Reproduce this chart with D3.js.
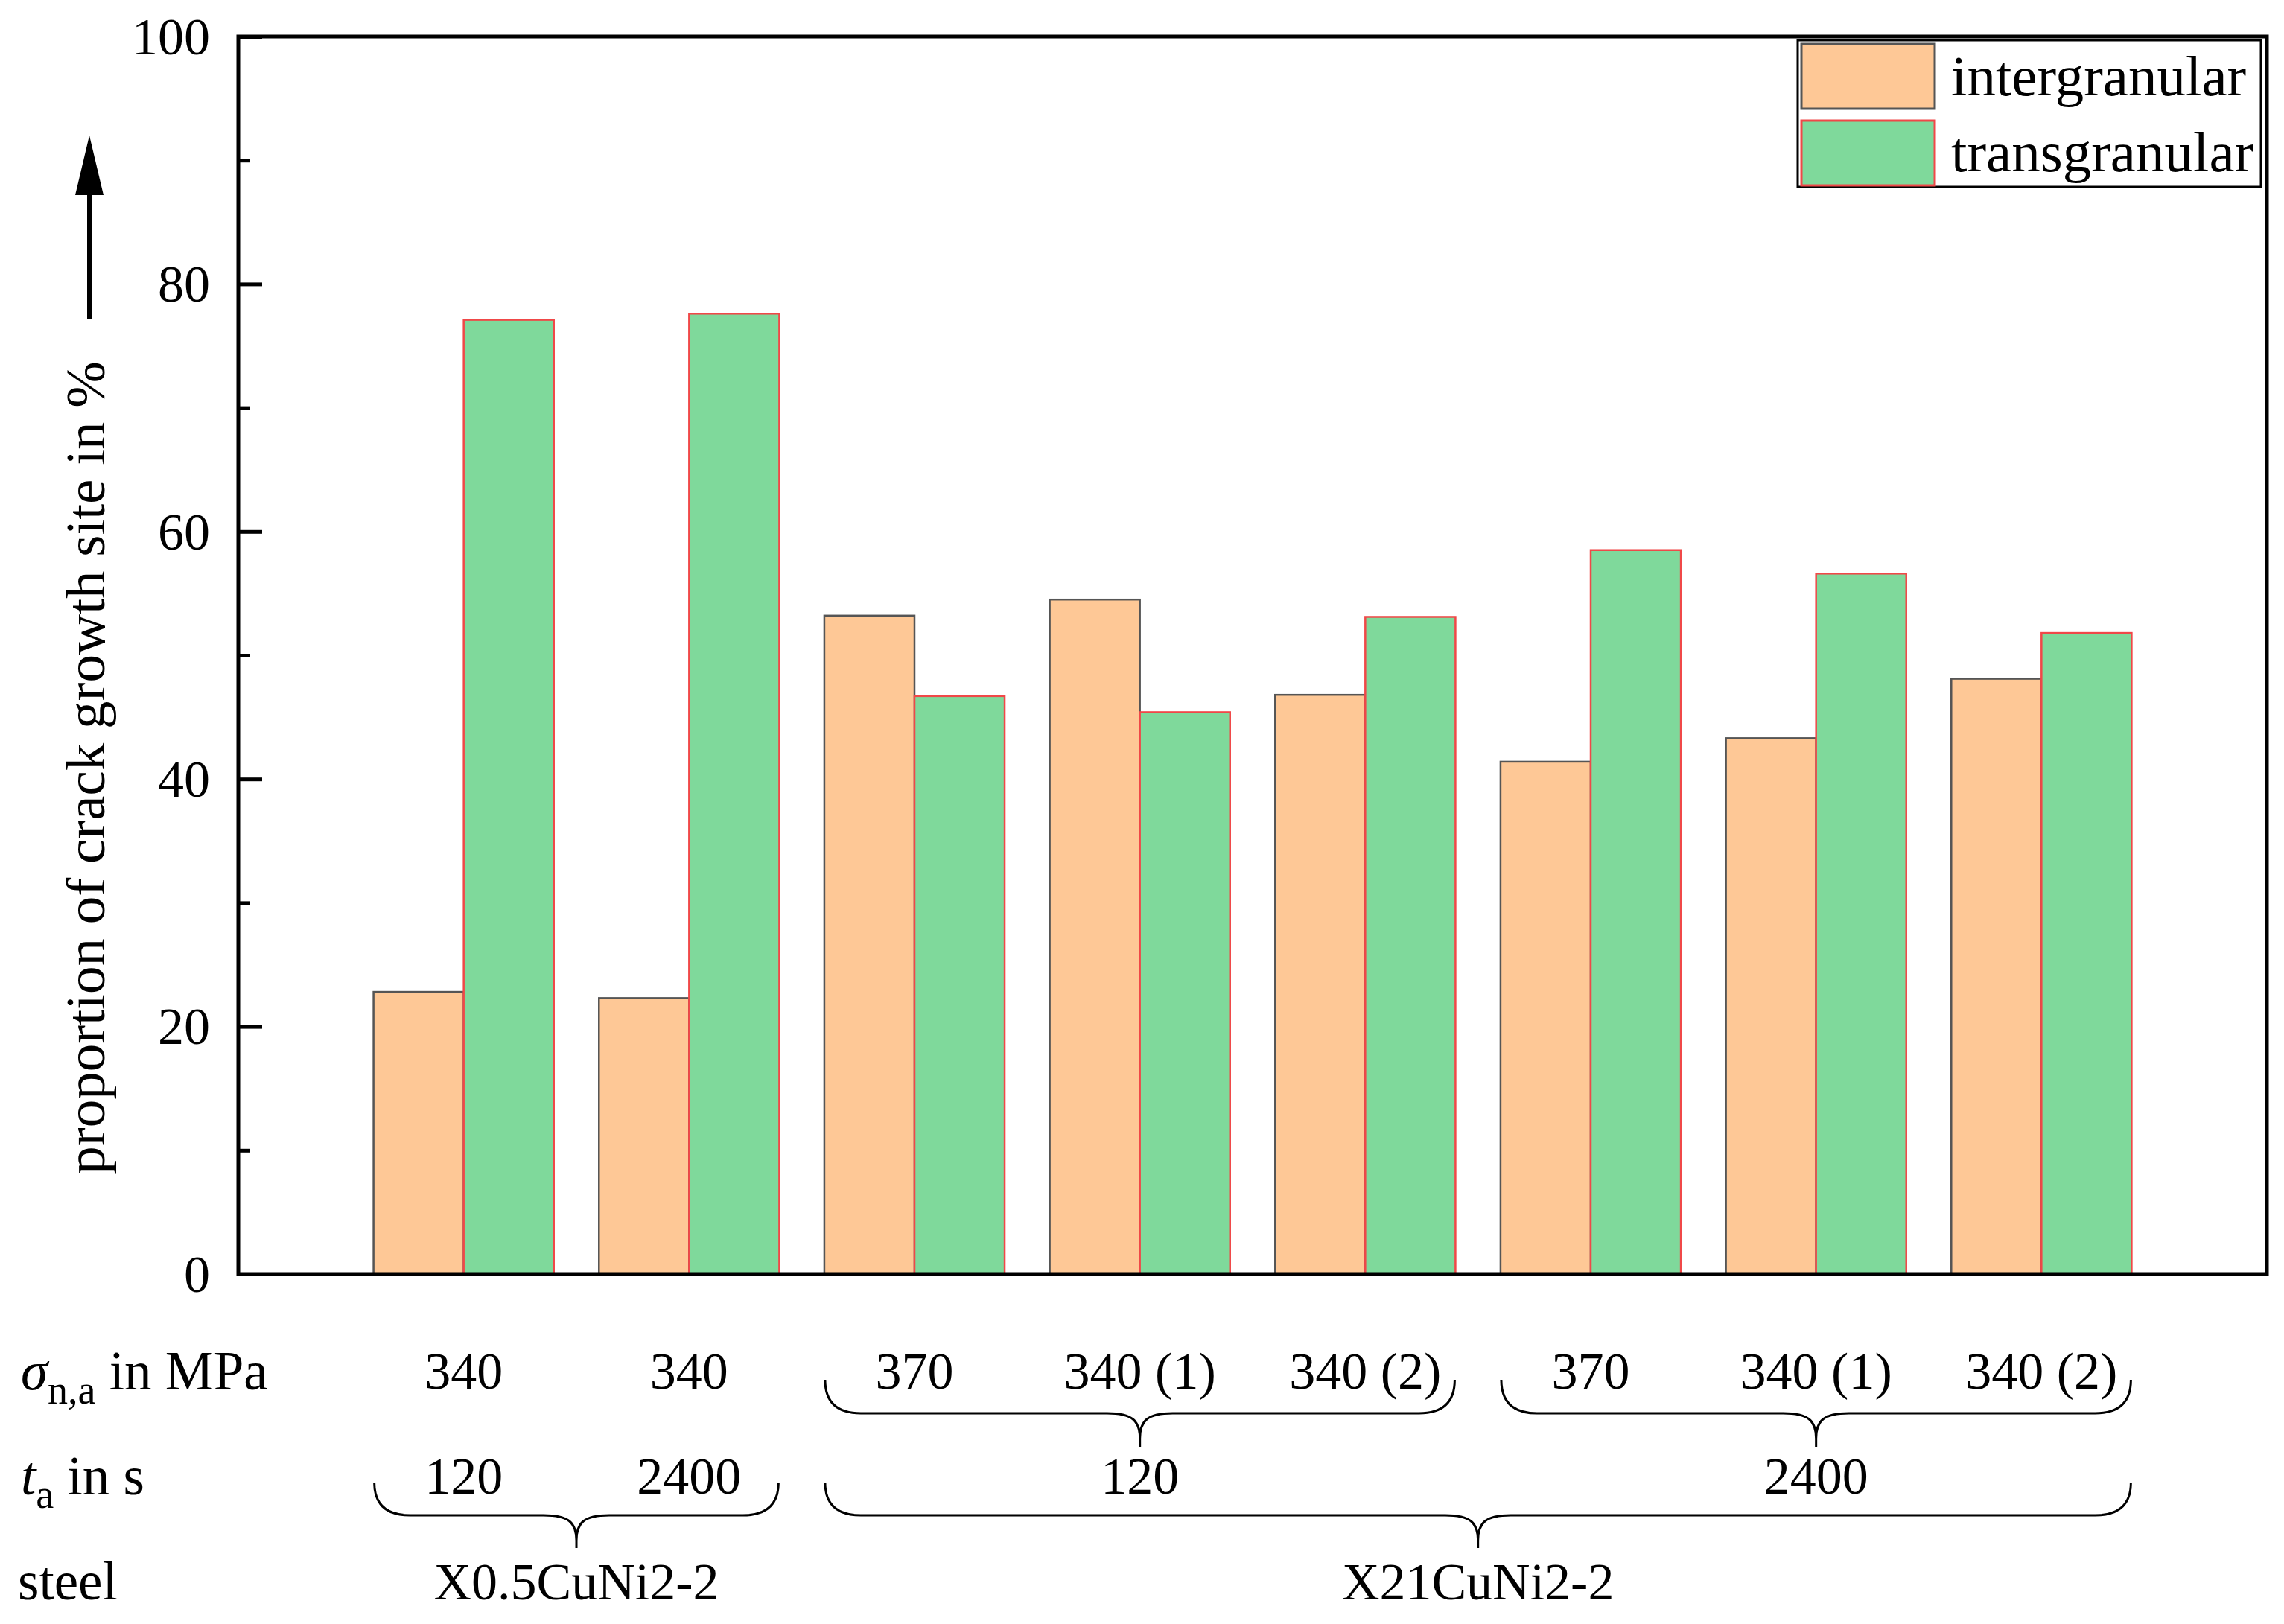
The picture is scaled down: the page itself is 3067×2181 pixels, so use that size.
<!DOCTYPE html>
<html><head><meta charset="utf-8">
<script src="https://cdn.jsdelivr.net/npm/d3@7"></script>
<style>body{margin:0;background:#fff;} text{font-family:"Liberation Serif","Times New Roman",serif;fill:#000;}</style>
</head><body>
<svg id="chart" width="3067" height="2181"></svg>
<script>
// ---- data ----
const groupIndex = [1, 2, 3, 4, 5, 6, 7, 8];
const intergranular = [22.8, 22.3, 53.2, 54.5, 46.8, 41.4, 43.3, 48.1];
const transgranular = [77.1, 77.6, 46.7, 45.4, 53.1, 58.5, 56.6, 51.8];
const sigmaLabels = ["340", "340", "370", "340 (1)", "340 (2)", "370", "340 (1)", "340 (2)"];
const taLabels = [{text:"120", from:1, to:1}, {text:"2400", from:2, to:2}, {text:"120", from:3, to:5}, {text:"2400", from:6, to:8}];
const steelLabels = [{text:"X0.5CuNi2-2", from:1, to:2}, {text:"X21CuNi2-2", from:3, to:8}];
const sigmaBraces = [{from:3, to:5}, {from:6, to:8}];
const taBraces = [{from:1, to:2}, {from:3, to:8}];
const yTicks = [0, 20, 40, 60, 80, 100];
const yMinorTicks = [10, 30, 50, 70, 90];
const seriesNames = ["intergranular", "transgranular"];

// ---- layout ----
const svg = d3.select("#chart");
const L = 320, R = 3044, T = 49, B = 1711;
const x = d3.scaleLinear().domain([0, 9]).range([L, R]);
const y = d3.scaleLinear().domain([0, 100]).range([B, T]);
const bw = 0.4;
const colors = {fill:["#FEC896", "#7FD99B"], stroke:["#555555", "#F04848"]};

// bars
const series = [intergranular, transgranular];
series.forEach((vals, s) => {
  svg.append("g").selectAll("rect").data(vals).join("rect")
    .attr("x", (d, i) => x(groupIndex[i] + (s === 0 ? -bw : 0)))
    .attr("width", x(bw) - x(0))
    .attr("y", d => y(d))
    .attr("height", d => y(0) - y(d))
    .attr("fill", colors.fill[s])
    .attr("stroke", colors.stroke[s])
    .attr("stroke-width", 2.5);
});

// frame
svg.append("rect").attr("x", L).attr("y", T).attr("width", R - L).attr("height", B - T)
  .attr("fill", "none").attr("stroke", "#000").attr("stroke-width", 5);

// y axis ticks (inward)
const yAxis = d3.axisRight(y).tickValues(yTicks).tickSize(32).tickFormat("");
const ga = svg.append("g").attr("transform", `translate(${L},0)`).call(yAxis);
ga.select(".domain").remove();
ga.selectAll("line").attr("stroke", "#000").attr("stroke-width", 5);
const yMinor = d3.axisRight(y).tickValues(yMinorTicks).tickSize(16).tickFormat("");
const gm = svg.append("g").attr("transform", `translate(${L},0)`).call(yMinor);
gm.select(".domain").remove();
gm.selectAll("line").attr("stroke", "#000").attr("stroke-width", 5);
svg.append("g").selectAll("text").data(yTicks).join("text")
  .attr("x", L - 38).attr("y", d => y(d)).attr("dy", "0.34em")
  .attr("text-anchor", "end").attr("font-size", 70).text(d => d);

// y label + arrow
svg.append("text").attr("transform", "translate(140,1031) rotate(-90)")
  .attr("text-anchor", "middle").attr("font-size", 75)
  .text("proportion of crack growth site in %");
svg.append("line").attr("x1", 120).attr("x2", 120).attr("y1", 429).attr("y2", 250)
  .attr("stroke", "#000").attr("stroke-width", 6);
svg.append("path").attr("d", "M120,182 L139,262 L101,262 Z").attr("fill", "#000");

// legend
const lg = svg.append("g");
lg.append("rect").attr("x", 2414).attr("y", 54).attr("width", 622).attr("height", 197)
  .attr("fill", "#fff").attr("stroke", "#000").attr("stroke-width", 3);
seriesNames.forEach((n, s) => {
  lg.append("rect").attr("x", 2419).attr("y", 59 + s * 103).attr("width", 179).attr("height", 87)
    .attr("fill", colors.fill[s]).attr("stroke", colors.stroke[s]).attr("stroke-width", 3);
  lg.append("text").attr("x", 2620).attr("y", 128 + s * 102).attr("font-size", 77).text(n);
});

// bottom category labels
const rowL = svg.append("g");
const s1 = rowL.append("text").attr("x", 28).attr("y", 1866).attr("font-size", 73);
s1.append("tspan").attr("font-style", "italic").text("σ");
s1.append("tspan").attr("font-size", 54).attr("dy", 19).text("n,a");
s1.append("tspan").attr("dy", -19).text(" in MPa");
const s2 = rowL.append("text").attr("x", 28).attr("y", 2007).attr("font-size", 73);
s2.append("tspan").attr("font-style", "italic").text("t");
s2.append("tspan").attr("font-size", 54).attr("dy", 18).text("a");
s2.append("tspan").attr("dy", -18).text(" in s");
rowL.append("text").attr("x", 24).attr("y", 2148).attr("font-size", 73).text("steel");

svg.append("g").selectAll("text").data(sigmaLabels).join("text")
  .attr("x", (d, i) => x(groupIndex[i])).attr("y", 1865).attr("text-anchor", "middle")
  .attr("font-size", 70).text(d => d);
svg.append("g").selectAll("text").data(taLabels).join("text")
  .attr("x", d => x((d.from + d.to) / 2)).attr("y", 2006).attr("text-anchor", "middle")
  .attr("font-size", 70).text(d => d.text);
svg.append("g").selectAll("text").data(steelLabels).join("text")
  .attr("x", d => x((d.from + d.to) / 2)).attr("y", 2148).attr("text-anchor", "middle")
  .attr("font-size", 70).text(d => d.text);

// braces
function bracePath(d, yTop, yMid, yTip) {
  const x0 = x(d.from - bw) + 1, x1 = x(d.to + bw) - 1, xc = (x0 + x1) / 2, r = 48, r2 = 44;
  return `M${x0},${yTop} Q${x0},${yMid} ${x0 + r},${yMid}` +
    ` L${xc - r2},${yMid} C${xc - 10},${yMid} ${xc},${yMid + 10} ${xc},${yMid + 34} L${xc},${yTip}` +
    ` M${xc},${yMid + 34} C${xc},${yMid + 10} ${xc + 10},${yMid} ${xc + r2},${yMid}` +
    ` L${x1 - r},${yMid} Q${x1},${yMid} ${x1},${yTop}`;
}
svg.append("g").selectAll("path").data(sigmaBraces).join("path")
  .attr("d", d => bracePath(d, 1853, 1898, 1943))
  .attr("fill", "none").attr("stroke", "#000").attr("stroke-width", 3);
svg.append("g").selectAll("path").data(taBraces).join("path")
  .attr("d", d => bracePath(d, 1991, 2035, 2079))
  .attr("fill", "none").attr("stroke", "#000").attr("stroke-width", 3);
</script>
</body></html>
